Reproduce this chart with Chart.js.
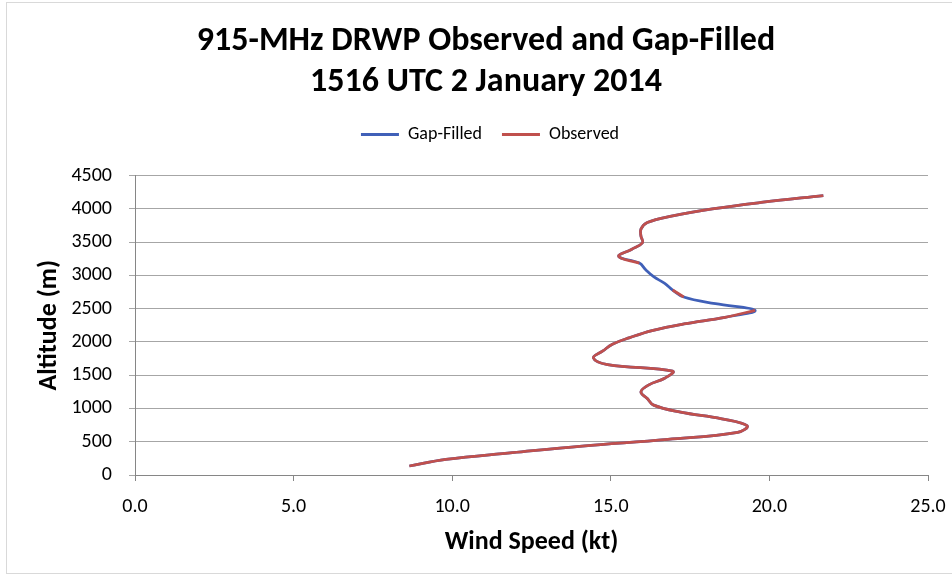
<!DOCTYPE html>
<html>
<head>
<meta charset="utf-8">
<script src="https://cdn.jsdelivr.net/npm/chart.js@4"></script>
<style>
  html, body { margin: 0; padding: 0; background: #fff; }
  #wrap { position: relative; width: 952px; height: 576px; overflow: hidden; }
  #frame { position: absolute; left: 6px; top: 2px; width: 980px; height: 570px; border: 1px solid #d9d9d9; }
  #myChart { position: absolute; left: 0; top: 0; }
</style>
</head>
<body>
<div id="wrap">
  <div id="frame"></div>
  <canvas id="myChart" width="952" height="576"></canvas>
</div>
<script>
// altitude of each range gate (m)
var altitude = [135, 235, 335, 435, 535, 640, 740, 845, 945, 1050, 1150, 1250, 1355, 1455, 1560, 1660, 1760, 1865, 1965, 2065,
                2170, 2270, 2370, 2475, 2575, 2675, 2780, 2880, 2980, 3085, 3185, 3285, 3390, 3490, 3590, 3695, 3795, 3895, 4000, 4100, 4200];
// wind speed (kt)
var gapFilled = [8.65, 9.8, 11.9, 14.1, 16.8, 19.0, 19.3, 18.5, 17.2, 16.35, 16.15, 15.95, 16.2, 16.7, 16.95, 14.9, 14.45, 14.75, 15.05, 15.6,
                 16.3, 17.3, 18.6, 19.55, 18.3, 17.3, 16.95, 16.7, 16.35, 16.1, 15.9, 15.25, 15.65, 16.0, 15.95, 15.95, 16.15, 16.95, 18.2, 19.8, 21.7];
var observed  = [8.65, 9.8, 11.9, 14.1, 16.8, 19.0, 19.3, 18.5, 17.2, 16.35, 16.15, 15.95, 16.2, 16.7, 16.95, 14.9, 14.45, 14.75, 15.05, 15.6,
                 16.3, 17.3, 18.6, 19.55, null, 17.3, 16.95, null, null, null, 15.9, 15.25, 15.65, 16.0, 15.95, 15.95, 16.15, 16.95, 18.2, 19.8, 21.7];

function pts(speeds) {
  return speeds.map(function (v, i) { return { x: v, y: v === null ? null : altitude[i] }; });
}

var FONT = "Carlito, 'Liberation Sans', Arial, sans-serif";

// room between legend and plot, and centre title/legend on the (wider) chart frame
var tweakBoxes = {
  id: 'tweakBoxes',
  beforeLayout: function (chart) {
    var lg = chart.legend;
    if (lg && !lg._gapPatched) {
      var fit = lg.fit;
      lg.fit = function () { fit.call(this); this.height += 22; };
      lg._gapPatched = true;
    }
  },
  afterLayout: function (chart) {
    if (chart.titleBlock) chart.titleBlock.right += 34;
    if (chart.legend) chart.legend.right += 42;
  }
};

window.onload = function () {
  var ctx = document.getElementById("myChart");
  new Chart(ctx, {
    type: 'scatter',
    data: {
      datasets: [{
        label: 'Gap-Filled',
        data: pts(gapFilled),
        borderColor: '#4060b8',
        backgroundColor: '#4060b8',
        borderWidth: 2.75,
        order: 1
      }, {
        label: 'Observed',
        data: pts(observed),
        borderColor: '#c0504d',
        backgroundColor: '#c0504d',
        borderWidth: 2.75,
        order: 0
      }]
    },
    plugins: [tweakBoxes],
    options: {
      responsive: false,
      animation: false,
      showLine: true,
      spanGaps: false,
      elements: {
        point: { radius: 0, hoverRadius: 0 },
        line: { tension: 0.4 }
      },
      layout: { padding: { left: 10, right: 24, top: 0, bottom: 10 } },
      plugins: {
        tooltip: { enabled: false },
        title: {
          display: true,
          text: ['915-MHz DRWP Observed and Gap-Filled', '1516 UTC 2 January 2014'],
          color: '#000',
          font: { family: FONT, size: 34, weight: 'bold', lineHeight: 1.2 },
          padding: { top: 21, bottom: 3 }
        },
        legend: {
          labels: {
            color: '#000',
            font: { family: FONT, size: 18 },
            boxWidth: 38,
            boxHeight: 3,
            padding: 20,
            sort: function (a, b) { return a.datasetIndex - b.datasetIndex; },
            generateLabels: function (chart) {
              return Chart.defaults.plugins.legend.labels.generateLabels(chart).map(function (l) {
                l.lineWidth = 0;
                return l;
              });
            }
          }
        }
      },
      scales: {
        x: {
          min: 0,
          max: 25,
          ticks: {
            stepSize: 5,
            color: '#000',
            font: { family: FONT, size: 20 },
            padding: 14,
            callback: function (v) { return v.toFixed(1); }
          },
          grid: { drawOnChartArea: false, drawTicks: true, tickLength: 6, color: '#868686' },
          border: { color: '#868686', width: 1 },
          title: {
            display: true,
            text: 'Wind Speed (kt)',
            color: '#000',
            font: { family: FONT, size: 26, weight: 'bold' },
            padding: { top: 4, bottom: 8 }
          },
          afterFit: function (scale) {
            scale.height = 91;
            scale.paddingLeft = 0;
            scale.paddingRight = 0;
          }
        },
        y: {
          min: 0,
          max: 4500,
          ticks: {
            stepSize: 500,
            color: '#000',
            font: { family: FONT, size: 20 },
            padding: 17,
            callback: function (v) { return String(v); }
          },
          grid: { color: '#a6a6a6', tickLength: 6, lineWidth: 1 },
          border: { color: '#868686', width: 1 },
          title: {
            display: true,
            text: 'Altitude (m)',
            color: '#000',
            font: { family: FONT, size: 26, weight: 'bold' },
            padding: { top: 24, bottom: 0 }
          },
          afterFit: function (scale) { scale.width = 125; }
        }
      }
    }
  });
};
</script>
</body>
</html>
